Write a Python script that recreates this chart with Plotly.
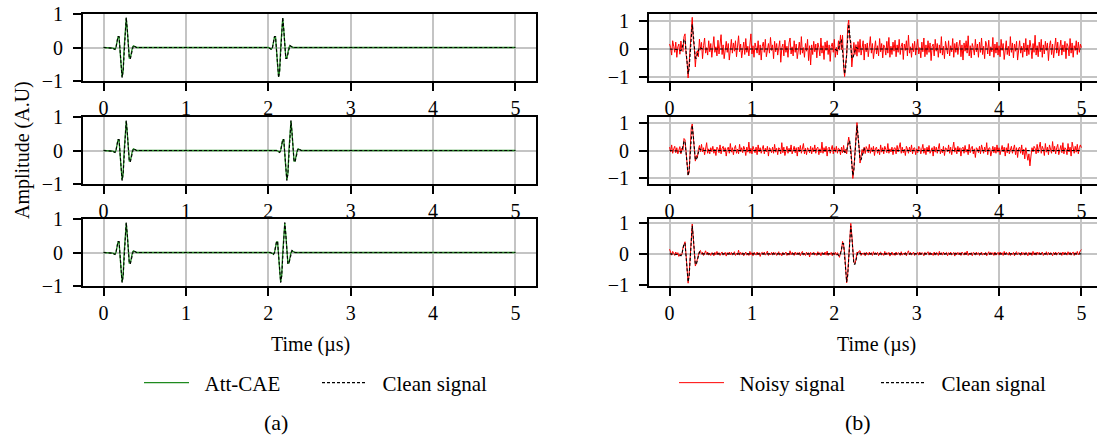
import numpy as np
import plotly.graph_objects as go

# ---------------- data ----------------
time_ticks = [0, 1, 2, 3, 4, 5]
amp_ticks = [-1, 0, 1]

# one wave packet of the clean signal, sampled every 0.0125 us from -0.15 to +0.15 us around its centre
packet_offsets_us = [-0.15, -0.1375, -0.125, -0.1125, -0.1, -0.0875, -0.075, -0.0625, -0.05,
                     -0.0375, -0.025, -0.0125, 0.0, 0.0125, 0.025, 0.0375, 0.05, 0.0625,
                     0.075, 0.0875, 0.1, 0.1125, 0.125, 0.1375, 0.15]
clean_packet = [0, -0.02, -0.04, -0.06, 0, 0.16, 0.33, 0.33, 0, -0.54, -0.90, -0.70, 0,
                0.70, 0.90, 0.54, 0, -0.33, -0.33, -0.16, 0, 0.06, 0.04, 0.02, 0]
att_cae_packet = [0, -0.02, -0.04, -0.05, 0, 0.15, 0.32, 0.32, 0, -0.52, -0.88, -0.69, 0,
                  0.69, 0.88, 0.53, 0, -0.32, -0.32, -0.15, 0, 0.05, 0.04, 0.02, 0]

packet1_center_us = [0.25, 0.25, 0.25]
packet2_center_us = [2.15, 2.25, 2.175]

# noise, one value every 0.0125 us from 0 to 5 us
noise_step_us = 0.0125
noise_row1 = [
    0.18, 0.05, -0.22, 0.3, 0.1, -0.12, 0.25, -0.3, 0.08, 0.2, -0.15, 0.35, -0.05, -0.25, 0.12, 0.22, -0.18, 0.06, -0.15, 0.28,
    -0.1, 0.15, 0.25, -0.2, 0.05, -0.32, 0.18, 0.1, -0.28, 0.3, -0.08, 0.22, -0.35, 0.12, 0.4, -0.15, 0.05, -0.22, 0.3, -0.1,
    0.2, -0.3, 0.15, 0.45, -0.12, 0.08, -0.25, 0.32, -0.18, 0.1, 0.52, -0.2, 0.15, -0.35, 0.05, 0.28, -0.12, 0.2, -0.4, 0.1,
    0.35, -0.15, 0.22, -0.08, 0.3, -0.28, 0.12, 0.48, -0.1, 0.18, -0.32, 0.05, 0.25, -0.2, 0.38, -0.12, 0.1, -0.25, 0.2, 0.55,
    -0.18, 0.12, -0.3, 0.22, 0.05, -0.15, 0.3, -0.22, 0.15, -0.4, 0.1, 0.25, -0.12, 0.35, -0.28, 0.08, 0.2, -0.15, 0.42, -0.05,
    0.15, -0.35, 0.28, -0.1, 0.2, -0.22, 0.12, 0.3, -0.48, 0.05, 0.18, -0.25, 0.32, -0.12, 0.1, -0.3, 0.22, 0.4, -0.18, 0.08,
    -0.25, 0.3, -0.12, 0.18, -0.35, 0.1, 0.25, -0.2, 0.45, -0.15, 0.05, -0.3, 0.2, -0.08, 0.35, -0.42, 0.12, -0.58, 0.15, -0.2,
    0.28, -0.1, 0.18, -0.32, 0.22, 0.05, -0.25, 0.4, -0.15, 0.12, -0.38, 0.25, -0.05, 0.3, -0.2, 0.15, -0.45, 0.1, 0.22, -0.12,
    0.35, -0.28, 0.1, -0.15, 0.3, -0.2, 0.18, -0.35, 0.5, -0.1, -0.1, 0.2, -0.25, 0.12, 0.15, -0.18, 0.28, -0.32, 0.15, 0.4,
    -0.2, 0.1, -0.3, 0.25, -0.12, 0.35, -0.22, 0.05, 0.3, -0.4, 0.18, -0.1, 0.22, -0.28, 0.12, 0.45, -0.15, 0.2, -0.35, 0.08,
    0.3, -0.18, 0.12, -0.25, 0.38, -0.1, 0.2, -0.32, 0.15, 0.05, -0.22, 0.28, -0.15, 0.42, -0.3, 0.1, -0.2, 0.25, -0.08, 0.32,
    -0.28, 0.15, -0.12, 0.35, -0.2, 0.1, 0.22, -0.38, 0.18, -0.05, 0.3, -0.25, 0.5, -0.15, 0.08, -0.3, 0.2, -0.1, 0.28, -0.22,
    0.12, 0.35, -0.18, 0.05, -0.32, 0.25, -0.1, 0.4, -0.28, 0.15, -0.2, 0.3, -0.12, 0.22, -0.42, 0.1, 0.18, -0.25, 0.35, -0.08,
    0.2, -0.3, 0.15, -0.15, 0.45, -0.22, 0.1, -0.35, 0.28, 0.05, -0.18, 0.3, -0.25, 0.12, -0.1, 0.38, -0.3, 0.2, -0.12, 0.25,
    -0.2, 0.1, 0.32, -0.28, 0.15, -0.4, 0.22, -0.08, 0.3, -0.15, 0.48, -0.25, 0.12, -0.32, 0.2, 0.05, -0.22, 0.35, -0.1, 0.18,
    -0.3, 0.25, -0.12, 0.4, -0.2, 0.1, -0.35, 0.28, 0.15, -0.18, 0.32, -0.25, 0.08, -0.1, 0.42, -0.3, 0.18, -0.15, 0.25, -0.22,
    0.12, -0.28, 0.35, -0.05, 0.2, -0.38, 0.15, 0.3, -0.2, 0.1, -0.25, 0.45, -0.12, 0.22, -0.32, 0.18, -0.08, 0.28, -0.4, 0.15,
    0.3, -0.15, 0.1, -0.3, 0.22, -0.1, 0.38, -0.25, 0.15, -0.2, 0.32, 0.05, -0.35, 0.2, -0.12, 0.5, -0.22, 0.12, -0.28, 0.25,
    -0.1, 0.35, -0.3, 0.15, -0.18, 0.28, -0.05, 0.22, -0.42, 0.12, 0.3, -0.2, 0.18, -0.32, 0.1, 0.4, -0.15, 0.25, -0.25, 0.08,
    0.32, -0.22, 0.15, -0.1, 0.28, -0.35, 0.2, 0.1, -0.25, 0.38, -0.15, 0.22, -0.3, 0.12, -0.05, 0.3, -0.2, 0.25, -0.12, 0.18,
    0.05]
noise_row2 = [
    0.12, -0.05, 0.2, -0.1, 0.06, 0.15, -0.08, 0.1, -0.12, 0.04, 0.18, -0.06, 0.08, -0.15, 0.1, 0.05, -0.1, 0.12, 0.02, -0.08,
    0.06, 0.1, 0.05, -0.12, 0.08, -0.05, 0.15, -0.1, 0.04, 0.12, -0.08, 0.2, -0.05, 0.1, -0.15, 0.08, 0.28, -0.1, 0.06, -0.12,
    0.1, -0.04, 0.15, -0.1, 0.05, -0.18, 0.12, 0.06, -0.08, 0.2, -0.12, 0.08, 0.15, -0.05, 0.1, -0.2, 0.06, 0.12, -0.1, 0.25,
    -0.06, 0.1, -0.15, 0.08, 0.18, -0.1, 0.05, -0.12, 0.22, -0.04, 0.1, -0.08, 0.15, 0.05, -0.18, 0.12, -0.06, 0.3, -0.1, 0.08,
    -0.12, 0.15, 0.04, -0.08, 0.12, -0.15, 0.2, -0.05, 0.1, -0.1, 0.06, 0.18, -0.12, 0.08, -0.05, 0.15, -0.2, 0.1, 0.05, -0.08,
    0.12, -0.1, 0.22, -0.06, 0.08, -0.15, 0.1, 0.05, -0.12, 0.28, -0.08, 0.12, -0.18, 0.06, 0.15, -0.1, 0.08, -0.05, 0.2, -0.12,
    0.05, 0.15, -0.08, 0.1, -0.2, 0.12, -0.05, 0.18, -0.1, 0.06, 0.25, -0.12, 0.08, -0.15, 0.1, 0.04, -0.08, 0.15, -0.12, 0.1,
    -0.05, 0.2, -0.1, 0.08, 0.12, -0.15, 0.06, -0.08, 0.3, -0.1, 0.1, -0.05, 0.15, -0.2, 0.08, 0.12, -0.1, 0.05, 0.18, -0.12,
    0.1, -0.06, 0.15, -0.1, 0.08, 0.05, -0.15, 0.12, -0.08, 0.2, -0.05, 0.1, -0.12, 0.06, 0.15, -0.1, 0.08, 0.12, -0.1, 0.05,
    -0.08, 0.12, 0.1, -0.05, 0.15, -0.12, 0.08, 0.2, -0.1, 0.06, -0.15, 0.12, 0.05, -0.08, 0.22, -0.1, 0.1, -0.05, 0.15, -0.18,
    0.08, 0.12, -0.1, 0.05, -0.15, 0.2, -0.06, 0.1, -0.12, 0.15, 0.04, -0.08, 0.25, -0.1, 0.06, -0.05, 0.12, -0.15, 0.08, 0.1,
    -0.12, 0.18, -0.05, 0.08, 0.28, -0.1, 0.12, -0.08, 0.05, -0.18, 0.15, 0.06, -0.1, 0.12, -0.05, 0.2, -0.12, 0.08, 0.1, -0.15,
    0.06, -0.08, 0.15, 0.1, -0.12, 0.05, 0.22, -0.1, 0.08, -0.15, 0.12, -0.05, 0.18, -0.1, 0.06, 0.1, -0.2, 0.15, -0.06, 0.12,
    -0.1, 0.08, 0.25, -0.12, 0.05, -0.08, 0.15, -0.18, 0.1, 0.06, -0.05, 0.2, -0.1, 0.12, -0.15, 0.08, 0.3, -0.06, 0.1, -0.12,
    0.15, -0.05, 0.1, -0.2, 0.08, 0.12, -0.1, 0.18, -0.06, 0.05, -0.15, 0.22, -0.08, 0.1, 0.15, -0.12, 0.06, -0.25, 0.1, 0.05,
    -0.08, 0.15, -0.12, 0.2, 0.06, -0.1, 0.12, -0.05, 0.28, -0.15, 0.08, 0.1, -0.2, 0.05, 0.15, -0.08, 0.12, -0.1, 0.2, -0.06,
    0.1, -0.15, 0.08, 0.18, -0.05, 0.12, -0.2, 0.1, -0.08, 0.25, -0.12, 0.06, 0.15, -0.1, 0.05, 0.2, -0.15, 0.1, -0.25, 0.08,
    0.12, -0.1, 0.2, -0.15, 0.05, -0.3, 0.1, -0.2, -0.35, -0.12, -0.55, -0.2, 0.1, -0.05, 0.15, 0.08, -0.12, 0.22, -0.08, 0.12,
    0.3, -0.1, 0.15, 0.05, -0.18, 0.25, -0.06, 0.12, -0.15, 0.2, 0.08, -0.1, 0.32, -0.05, 0.15, -0.12, 0.1, 0.22, -0.15, 0.08,
    0.18, -0.08, 0.28, -0.12, 0.1, 0.05, -0.15, 0.25, -0.05, 0.12, -0.2, 0.3, 0.08, -0.1, 0.15, -0.06, 0.22, -0.12, 0.1, 0.2,
    0.1]
noise_row3 = [
    0.15, 0.05, -0.04, 0.08, 0.02, -0.05, 0.06, -0.03, 0.04, -0.06, 0.03, 0.05, -0.02, 0.04, -0.05, 0.06, -0.03, 0.02, -0.04, 0.05,
    0.03, -0.05, 0.06, -0.02, 0.04, -0.06, 0.03, 0.05, -0.04, 0.02, 0.07, -0.03, 0.05, -0.05, 0.04, 0.1, -0.02, 0.06, -0.04, 0.03,
    -0.05, 0.04, 0.02, -0.06, 0.05, -0.03, 0.08, -0.02, 0.04, -0.05, 0.03, 0.06, -0.04, 0.02, 0.05, -0.07, 0.04, -0.02, 0.06, -0.03,
    0.05, -0.04, 0.03, 0.07, -0.05, 0.02, -0.03, 0.12, -0.04, 0.05, -0.02, 0.04, -0.06, 0.03, 0.06, -0.04, 0.02, -0.05, 0.08, -0.03,
    0.04, -0.06, 0.05, 0.02, -0.04, 0.06, -0.03, 0.04, -0.08, 0.03, 0.05, -0.02, 0.06, -0.04, 0.03, 0.09, -0.05, 0.02, -0.03, 0.05,
    -0.04, 0.06, -0.02, 0.04, -0.05, 0.03, 0.07, -0.04, 0.02, -0.06, 0.05, -0.03, 0.04, 0.06, -0.05, 0.02, -0.04, 0.1, -0.03, 0.05,
    0.02, -0.05, 0.06, -0.03, 0.04, -0.02, 0.05, -0.06, 0.03, 0.08, -0.04, 0.02, -0.05, 0.06, -0.03, 0.04, -0.1, 0.05, -0.02, 0.03,
    0.06, -0.04, 0.03, -0.05, 0.07, -0.02, 0.04, -0.06, 0.05, 0.02, -0.03, 0.06, -0.04, 0.09, -0.05, 0.03, -0.02, 0.05, -0.06, 0.04,
    -0.03, 0.05, -0.04, 0.06, 0.02, -0.05, 0.04, -0.03, 0.07, -0.04, 0.03, -0.06, -0.03, 0.05, -0.02, 0.04, 0.08, 0.06, -0.03, 0.05,
    0.02, -0.04, 0.06, -0.03, 0.05, 0.08, -0.05, 0.03, -0.02, 0.04, -0.06, 0.05, 0.03, -0.04, 0.06, -0.02, 0.04, -0.05, 0.07, -0.03,
    0.04, -0.02, 0.05, -0.06, 0.03, 0.06, -0.04, 0.02, -0.05, 0.08, -0.03, 0.04, -0.02, 0.05, -0.07, 0.03, 0.06, -0.04, 0.02, -0.05,
    0.06, -0.03, 0.04, 0.02, -0.05, 0.07, -0.04, 0.03, -0.02, 0.05, -0.06, 0.04, 0.1, -0.03, 0.05, -0.04, 0.02, 0.06, -0.05, 0.03,
    -0.02, 0.05, -0.04, 0.06, -0.03, 0.04, 0.02, -0.06, 0.05, -0.02, 0.03, 0.07, -0.04, 0.05, -0.03, 0.02, -0.05, 0.06, -0.04, 0.04,
    0.03, -0.05, 0.08, -0.02, 0.04, -0.04, 0.06, -0.03, 0.02, 0.05, -0.06, 0.04, -0.02, 0.06, -0.04, 0.03, 0.05, -0.07, 0.04, -0.02,
    0.05, -0.03, 0.04, -0.05, 0.06, 0.02, -0.04, 0.05, -0.03, 0.09, -0.05, 0.03, -0.02, 0.04, -0.06, 0.05, 0.03, -0.04, 0.06, -0.02,
    0.04, -0.05, 0.03, 0.06, -0.04, 0.02, -0.03, 0.05, -0.06, 0.04, 0.07, -0.03, 0.05, -0.02, 0.04, -0.05, 0.06, -0.04, 0.03, 0.05,
    -0.04, 0.06, -0.02, 0.04, -0.05, 0.08, -0.03, 0.05, 0.02, -0.04, 0.06, -0.05, 0.03, -0.02, 0.05, -0.06, 0.04, 0.07, -0.03, 0.04,
    0.02, -0.05, 0.06, -0.03, 0.04, -0.04, 0.05, 0.03, -0.06, 0.05, -0.02, 0.04, -0.05, 0.08, -0.03, 0.04, -0.04, 0.06, -0.02, 0.05,
    -0.03, 0.04, 0.06, -0.05, 0.03, -0.02, 0.07, -0.04, 0.05, -0.03, 0.04, 0.02, -0.06, 0.05, -0.03, 0.06, -0.04, 0.03, 0.05, -0.02,
    0.04, -0.05, 0.06, -0.03, 0.05, 0.02, -0.04, 0.07, -0.02, 0.05, -0.04, 0.03, 0.06, -0.05, 0.04, -0.02, 0.08, -0.03, 0.06, 0.1,
    0.14]
noise_rows = [noise_row1, noise_row2, noise_row3]

right_y_ranges = [[-1.16, 1.27], [-1.2, 1.2], [-1.03, 1.12]]
left_y_range = [-1, 1]

# ---------------- layout geometry ----------------
W, H = 1097, 438
FONT = "Liberation Serif, Times New Roman, serif"
GREEN = "#1f8a1f"
RED = "#ff0000"
GRID = "#c4c4c4"
NB = "\u00a0\u00a0"


def py(px):
    return 1 - px / H


row_px = [(14, 81), (117, 184), (219, 286)]
col_px = [(83, 536), (649, 1097)]
x_ranges = [[-0.25, 5.25], [-0.25, -0.25 + (1097 - 649) / (453 / 5.5)]]


def clean_trace(packet, c1, c2):
    xs = [0.0] + [c1 + o for o in packet_offsets_us] + [c2 + o for o in packet_offsets_us] + [5.0]
    ys = [0.0] + list(packet) + list(packet) + [0.0]
    return xs, ys


fig = go.Figure()
layout = {}
tickfont = dict(family=FONT, size=20, color="black")

for r in range(3):
    for c in range(2):
        n = r * 2 + c + 1
        xa = "x" if n == 1 else f"x{n}"
        ya = "y" if n == 1 else f"y{n}"
        x0, x1 = col_px[c]
        ytop, ybot = row_px[r]
        layout["xaxis" if n == 1 else f"xaxis{n}"] = dict(
            domain=[x0 / W, x1 / W], range=x_ranges[c], anchor=ya, automargin=False,
            tickvals=time_ticks, ticks="outside", ticklen=8, tickwidth=1.5, tickcolor="black",
            ticklabelstandoff=0,
            showline=True, linecolor="black", linewidth=2, mirror=True,
            showgrid=True, gridcolor=GRID, gridwidth=1.5, zeroline=False,
            tickfont=tickfont,
        )
        layout["yaxis" if n == 1 else f"yaxis{n}"] = dict(
            domain=[py(ybot), py(ytop)], range=left_y_range if c == 0 else right_y_ranges[r],
            anchor=xa, automargin=False,
            tickvals=amp_ticks, ticks="outside", ticklen=8, tickwidth=1.5, tickcolor="black",
            ticklabelstandoff=6,
            showline=True, linecolor="black", linewidth=2, mirror=(c == 0),
            showgrid=True, gridcolor=GRID, gridwidth=1.5, zeroline=False,
            tickfont=tickfont,
        )

        cx, cy = clean_trace(clean_packet, packet1_center_us[r], packet2_center_us[r])
        if c == 0:
            ax, ay = clean_trace(att_cae_packet, packet1_center_us[r], packet2_center_us[r])
            fig.add_trace(go.Scatter(x=ax, y=ay, mode="lines", name=NB + "Att-CAE",
                                     line=dict(color=GREEN, width=1.3),
                                     xaxis=xa, yaxis=ya, showlegend=(r == 0), legend="legend"))
            fig.add_trace(go.Scatter(x=cx, y=cy, mode="lines", name=NB + "Clean signal",
                                     line=dict(color="black", width=1.1, dash="3px,2px"),
                                     xaxis=xa, yaxis=ya, showlegend=(r == 0), legend="legend"))
        else:
            noise = np.array(noise_rows[r], dtype=float)
            tn = np.arange(len(noise)) * noise_step_us
            noisy = noise.copy()
            for cen in (packet1_center_us[r], packet2_center_us[r]):
                ci = int(round(cen / noise_step_us))
                noisy[ci - 12:ci + 13] += np.array(clean_packet)
            fig.add_trace(go.Scatter(x=tn, y=noisy, mode="lines", name=NB + "Noisy signal",
                                     line=dict(color=RED, width=1.0),
                                     xaxis=xa, yaxis=ya, showlegend=(r == 0), legend="legend2"))
            fig.add_trace(go.Scatter(x=cx, y=cy, mode="lines", name=NB + "Clean signal",
                                     line=dict(color="black", width=1.1, dash="3px,2px"),
                                     xaxis=xa, yaxis=ya, showlegend=(r == 0), legend="legend2"))

legend_common = dict(orientation="h", yanchor="middle", y=py(383), xanchor="left",
                     font=dict(family=FONT, size=21, color="black"),
                     bgcolor="rgba(0,0,0,0)", itemwidth=45, entrywidthmode="pixels")
layout["legend"] = dict(legend_common, x=139 / W, entrywidth=118)
layout["legend2"] = dict(legend_common, x=674 / W, entrywidth=142)

annotations = [
    dict(text="Amplitude (A.U)", x=22 / W, y=py(150), textangle=-90),
    dict(text="Time (µs)", x=310 / W, y=py(344)),
    dict(text="Time (µs)", x=876 / W, y=py(344)),
    dict(text="(a)", x=276 / W, y=py(422), size=22),
    dict(text="(b)", x=858 / W, y=py(422), size=22),
]
layout["annotations"] = [
    dict(text=a["text"], x=a["x"], y=a["y"], xref="paper", yref="paper", showarrow=False,
         xanchor="center", yanchor="middle", textangle=a.get("textangle", 0),
         font=dict(family=FONT, size=a.get("size", 20), color="black"))
    for a in annotations
]

fig.update_layout(width=W, height=H, margin=dict(l=0, r=0, t=0, b=0, pad=0),
                  paper_bgcolor="white", plot_bgcolor="white", **layout)

# remove the browser's default 8px page margin so the figure sits at the window's corner
fig.write_html("out.html", config={"displayModeBar": False},
               post_script="document.body.style.margin='0';document.body.style.overflow='hidden';")
